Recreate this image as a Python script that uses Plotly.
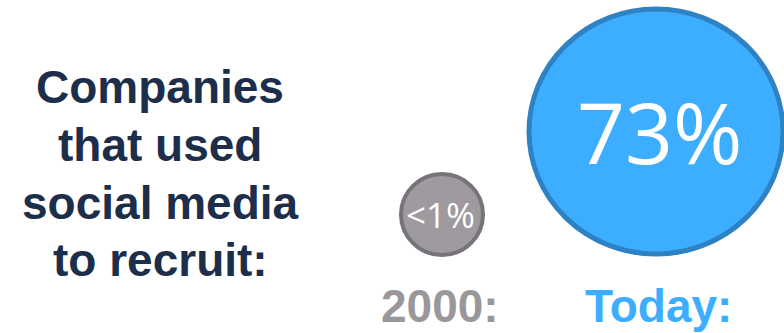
import plotly.graph_objects as go

# ---- data ----
headline_lines = ["Companies", "that used", "social media", "to recruit:"]
period_labels = ["2000:", "Today:"]
share_labels = ["<1%", "73%"]

# ---- layout config (pixel space 784 x 333) ----
W, H = 784, 333
bubble_centers_x = [442, 656]
bubble_centers_y = [214.5, 131.5]
bubble_rx = [41, 127]
bubble_ry = [40.5, 122.5]
bubble_fill = ["#9e9aa0", "#3daeff"]
bubble_line = ["#767379", "#2e82c4"]
bubble_line_w = [4, 5]
share_font = [35, 84]
label_colors = ["#9a979b", "#3daeff"]
label_y = 306
headline_x = 160
headline_y = [87, 145, 203, 260]
navy = "#1c2e4a"

fig = go.Figure()
# invisible trace to establish axes
fig.add_trace(go.Scatter(x=[0, W], y=[0, H], mode="markers",
                         marker=dict(opacity=0), hoverinfo="skip", showlegend=False))

shapes = []
annotations = []
for i in range(len(share_labels)):
    cx, cy = bubble_centers_x[i], bubble_centers_y[i]
    shapes.append(dict(type="circle", xref="x", yref="y",
                       x0=cx - bubble_rx[i], x1=cx + bubble_rx[i],
                       y0=cy - bubble_ry[i], y1=cy + bubble_ry[i],
                       fillcolor=bubble_fill[i],
                       line=dict(color=bubble_line[i], width=bubble_line_w[i]),
                       layer="below"))
    annotations.append(dict(x=cx + (4 if i == 1 else -2), y=cy, xref="x", yref="y",
                            text=share_labels[i], showarrow=False,
                            xanchor="center", yanchor="middle",
                            font=dict(family="Open Sans", size=share_font[i], color="white")))
    annotations.append(dict(x=cx - (2 if i == 0 else -2), y=label_y, xref="x", yref="y",
                            text="<b>%s</b>" % period_labels[i], showarrow=False,
                            xanchor="center", yanchor="middle",
                            font=dict(family="Liberation Sans", size=46, color=label_colors[i])))

for line, y in zip(headline_lines, headline_y):
    annotations.append(dict(x=headline_x, y=y, xref="x", yref="y",
                            text="<b>%s</b>" % line, showarrow=False,
                            xanchor="center", yanchor="middle",
                            font=dict(family="Liberation Sans", size=46, color=navy)))

fig.update_layout(
    width=W, height=H,
    margin=dict(l=0, r=0, t=0, b=0),
    paper_bgcolor="white", plot_bgcolor="white",
    xaxis=dict(range=[0, W], visible=False, fixedrange=True),
    yaxis=dict(range=[H, 0], visible=False, fixedrange=True),
    shapes=shapes, annotations=annotations,
    showlegend=False,
)
fig.write_html("out.html", config={"displayModeBar": False})
